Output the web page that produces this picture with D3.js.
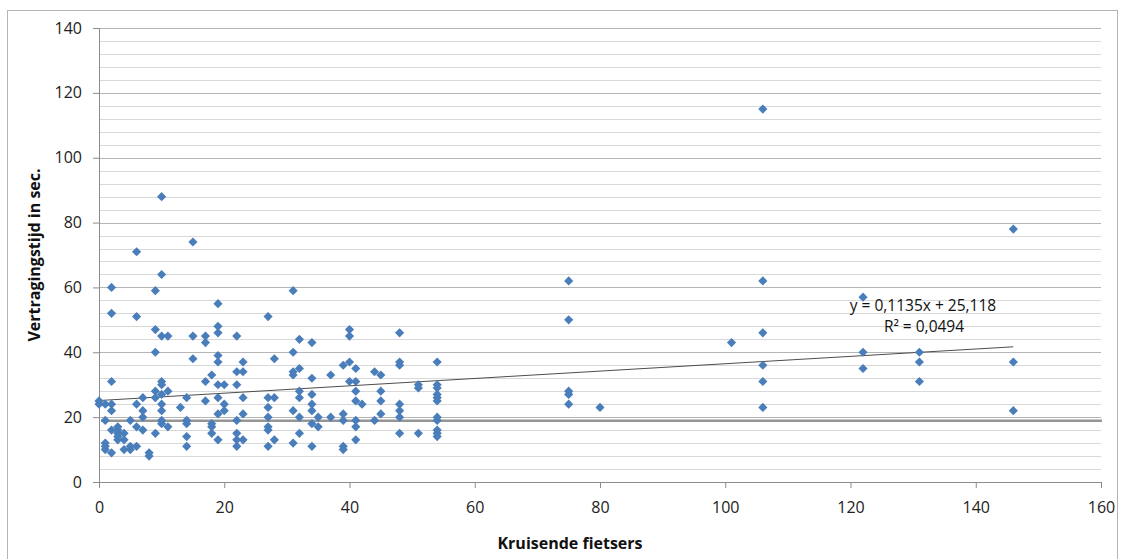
<!DOCTYPE html>
<html>
<head>
<meta charset="utf-8">
<script src="https://cdn.jsdelivr.net/npm/d3@7"></script>
<style>
  html, body { margin: 0; padding: 0; background: #fff; }
  svg { display: block; font-family: "Open Sans", "Liberation Sans", sans-serif; }
</style>
</head>
<body>
<svg id="chart" width="1123" height="559"></svg>
<script>
// Number of crossing cyclists and the delays (seconds) measured at each count
const cyclistCounts = [0, 1, 2, 3, 4, 5, 6, 7, 8, 9, 10, 11, 13, 14, 15, 17, 18, 19, 20, 22, 23, 27, 28, 31, 32, 34, 35, 37, 39, 40, 41, 42, 44, 45, 48, 51, 54, 75, 80, 101, 106, 122, 131, 146];
const delaysByCount = [
  [25, 24],
  [24, 19, 12, 11, 10],
  [60, 52, 31, 24, 22, 16, 9],
  [17, 16, 15, 14, 13],
  [15, 13, 10],
  [19, 11, 10],
  [71, 51, 24, 17, 11],
  [26, 22, 20, 16],
  [9, 8],
  [59, 47, 40, 28, 26, 15],
  [88, 64, 45, 31, 30, 27, 24, 22, 19, 18],
  [45, 28, 17],
  [23],
  [26, 19, 18, 14, 11],
  [74, 45, 38],
  [45, 43, 31, 25],
  [33, 18, 17, 15],
  [55, 48, 46, 39, 37, 30, 26, 21, 13],
  [30, 24, 22],
  [45, 34, 30, 19, 15, 13, 11],
  [37, 34, 26, 21, 13],
  [51, 26, 23, 20, 17, 16, 11],
  [38, 26, 13],
  [59, 40, 34, 33, 22, 12],
  [44, 35, 28, 26, 20, 15],
  [43, 32, 27, 24, 22, 18, 11],
  [20, 17],
  [33, 20],
  [36, 21, 19, 11, 10],
  [47, 45, 37, 31],
  [35, 31, 28, 25, 19, 17, 13],
  [24],
  [34, 19],
  [33, 28, 25, 21],
  [46, 37, 36, 24, 22, 20, 15],
  [30, 29, 15],
  [37, 30, 29, 27, 26, 25, 20, 19, 16, 15, 14],
  [62, 50, 28, 27, 24],
  [23],
  [43],
  [115, 62, 46, 36, 31, 23],
  [57, 40, 35],
  [40, 37, 31],
  [78, 37, 22]
];

// Axis ticks and labels
const xTicks = [0, 20, 40, 60, 80, 100, 120, 140, 160];
const yTicks = [0, 20, 40, 60, 80, 100, 120, 140];
const yMinorStep = 4;
const xTitle = "Kruisende fietsers";
const yTitle = "Vertragingstijd in sec.";

// Linear trend and the horizontal reference level
const trendSlope = 0.1135;
const trendIntercept = 25.118;
const trendR2 = 0.0494;
const referenceDelay = 18.9;

// ---- layout ----
const plot = { left: 99, right: 1101, top: 28, bottom: 482 };
const svg = d3.select("#chart");

const points = [];
cyclistCounts.forEach((c, i) => delaysByCount[i].forEach(d => points.push({ x: c, y: d })));

const x = d3.scaleLinear().domain([xTicks[0], xTicks[xTicks.length - 1]]).range([plot.left, plot.right]);
const y = d3.scaleLinear().domain([yTicks[0], yTicks[yTicks.length - 1]]).range([plot.bottom, plot.top]);

const crisp = v => Math.round(v) + 0.5;

// outer chart frame
svg.append("rect")
  .attr("x", 7.5).attr("y", 10.5)
  .attr("width", 1110).attr("height", 600)
  .attr("fill", "none").attr("stroke", "#b4b4b4").attr("stroke-width", 1);

// minor gridlines
const minorValues = d3.range(yTicks[0], yTicks[yTicks.length - 1] + 0.001, yMinorStep)
  .filter(v => !yTicks.includes(v));
svg.append("g").selectAll("line").data(minorValues).join("line")
  .attr("x1", plot.left).attr("x2", plot.right)
  .attr("y1", d => crisp(y(d))).attr("y2", d => crisp(y(d)))
  .attr("stroke", "#d8d8d8").attr("stroke-width", 1);

// major gridlines
svg.append("g").selectAll("line").data(yTicks.filter(v => v !== 0)).join("line")
  .attr("x1", plot.left).attr("x2", plot.right)
  .attr("y1", d => crisp(y(d))).attr("y2", d => crisp(y(d)))
  .attr("stroke", "#b5b5b5").attr("stroke-width", 1);

// y axis
const yAxis = d3.axisLeft(y).tickValues(yTicks).tickSize(6).tickPadding(11).tickFormat(d3.format("d"));
const gy = svg.append("g").attr("transform", `translate(${crisp(plot.left) - 0.5},0)`).call(yAxis);
gy.select(".domain").attr("stroke", "#8c8c8c").attr("d", `M0.5,${crisp(y(yTicks[yTicks.length-1]))}V${crisp(plot.bottom)}`);
gy.selectAll(".tick line").attr("stroke", "#8c8c8c");
gy.selectAll(".tick text")
  .attr("fill", "#222").attr("font-size", "16px")
  .attr("font-family", "'Open Sans', sans-serif");

// x axis
const xAxis = d3.axisBottom(x).tickValues(xTicks).tickSize(6).tickPadding(14).tickFormat(d3.format("d"));
const gx = svg.append("g").attr("transform", `translate(0,${crisp(plot.bottom) - 0.5})`).call(xAxis);
gx.select(".domain").attr("stroke", "#8c8c8c").attr("d", `M${plot.left},0.5H${plot.right}`);
gx.selectAll(".tick line").attr("stroke", "#8c8c8c");
gx.selectAll(".tick text")
  .attr("fill", "#222").attr("font-size", "16px")
  .attr("font-family", "'Open Sans', sans-serif");

// horizontal reference level
svg.append("line")
  .attr("x1", plot.left + 2).attr("x2", plot.right + 1)
  .attr("y1", y(referenceDelay)).attr("y2", y(referenceDelay))
  .attr("stroke", "#959595").attr("stroke-width", 2.4);

// trendline over the observed range
const xMax = d3.max(points, d => d.x);
const trend = d3.line().x(d => x(d)).y(d => y(trendIntercept + trendSlope * d));
svg.append("path")
  .attr("d", trend([0, xMax]))
  .attr("fill", "none").attr("stroke", "#4d4d4d").attr("stroke-width", 1);

// scatter markers (square rotated into a diamond)
const diamond = d3.symbol().type(d3.symbolSquare).size(42);
svg.append("g").selectAll("path").data(points).join("path")
  .attr("d", diamond)
  .attr("transform", d => `translate(${x(d.x)},${y(d.y)}) rotate(45)`)
  .attr("fill", "#4a7ebb");

// trend equation label
const nl = v => String(v).replace(".", ",");
const eq = svg.append("text")
  .attr("text-anchor", "middle").attr("fill", "#111")
  .attr("font-size", "15.5px");
eq.append("tspan").attr("x", 923).attr("y", 311)
  .text(`y = ${nl(trendSlope)}x + ${nl(trendIntercept)}`);
eq.append("tspan").attr("x", 924).attr("y", 332)
  .text(`R² = ${nl(trendR2)}`);

// axis titles
svg.append("text")
  .attr("x", 570).attr("y", 549)
  .attr("text-anchor", "middle").attr("font-weight", "bold")
  .attr("font-size", "16px").attr("fill", "#111")
  .text(xTitle);

svg.append("text")
  .attr("transform", `translate(40,${(plot.top + plot.bottom) / 2}) rotate(-90)`)
  .attr("text-anchor", "middle").attr("font-weight", "bold")
  .attr("font-size", "16px").attr("fill", "#111")
  .text(yTitle);
</script>
</body>
</html>
